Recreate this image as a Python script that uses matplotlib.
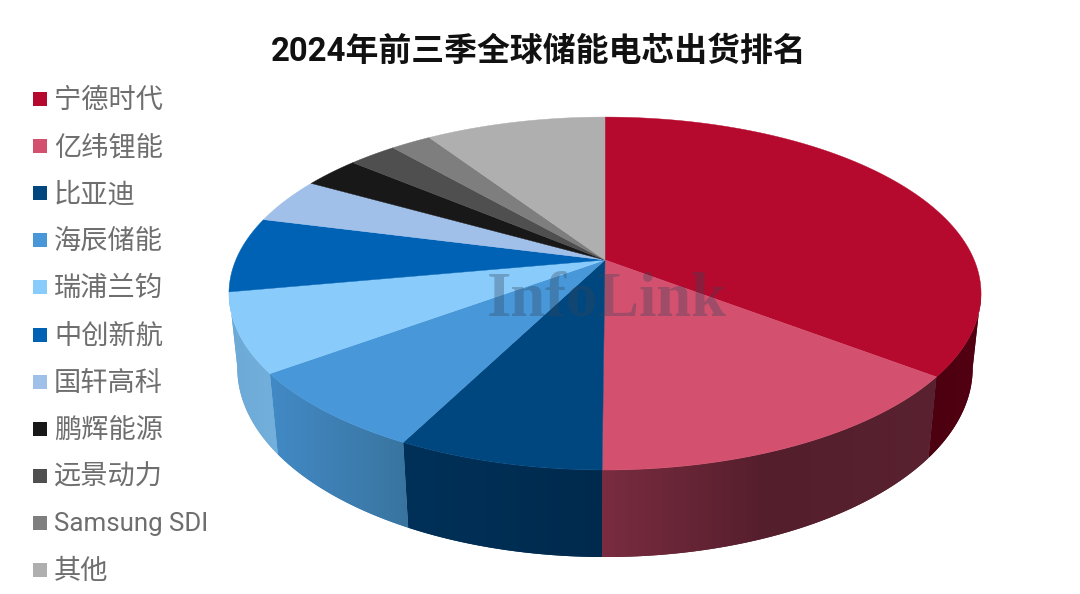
import numpy as np
import matplotlib
matplotlib.use("Agg")
import matplotlib.pyplot as plt
from matplotlib.colors import to_rgb

plt.rcParams['font.family'] = ['Noto Sans CJK SC', 'DejaVu Sans']

title = "2024年前三季全球储能电芯出货排名"
names = ["宁德时代", "亿纬锂能", "比亚迪", "海辰储能", "瑞浦兰钧", "中创新航",
         "国轩高科", "鹏辉能源", "远景动力", "Samsung SDI", "其他"]
shares = [35.4, 14.7, 7.4, 7.4, 7.2, 6.9, 4.2, 2.9, 2.5, 2.1, 9.3]
colors = ["#b50a2e", "#d4506f", "#00477f", "#4797d9", "#89ccfc", "#0062b5",
          "#a0c0ea", "#181818", "#4f4f4f", "#7e7e7e", "#afafaf"]
# side wall colours, evenly spaced from the right end to the left end of each slice
walls = [("#520012", "#4c0010"), ("#5a2230", "#541e2c", "#7a2c40"), ("#002a4d", "#003159"),
         ("#39749f", "#428ac6"), ("#73b0dc", "#6ca9d6"), None, None, None, None, None, None]

# perspective of the top and bottom disc, in pixels
TOP = dict(cx=605, cy=260, a=170.1, b=369.2, k=0.19)
BOTTOM = dict(cx=605, cy=332.8, a=182.3, b=361.2, k=0.187)


def project(theta, p):
    x, y = np.sin(theta), np.cos(theta)
    w = 1 + p['k'] * y
    return p['cx'] + p['b'] * x / w, p['cy'] - p['a'] * y / w


fig = plt.figure(figsize=(10.8, 5.94), dpi=100)
ax = fig.add_axes([0, 0, 1, 1])

edges = np.radians(np.concatenate([[0], np.cumsum(shares)]) / sum(shares) * 360)

# walls first, the top face covers what is behind
for i, wall in enumerate(walls):
    if wall is None:
        continue
    t = np.linspace(edges[i], edges[i + 1], 120)
    t = t[np.cos(t) < -0.18]
    xt, yt = project(t, TOP)
    xb, yb = project(t, BOTTOM)
    px, py = np.r_[xt, xb[::-1]], np.r_[yt, yb[::-1]]
    poly = ax.fill(px, py, color=to_rgb(wall[1]), lw=0, zorder=-1)[0]
    # gradient runs left to right across the slice
    stops = np.array([to_rgb(c) for c in wall[::-1]])
    grid = np.linspace(0, 1, 256)
    pos = np.linspace(0, 1, len(stops))
    grad = np.stack([np.interp(grid, pos, stops[:, c]) for c in range(3)], axis=-1)[None, :, :]
    im = ax.imshow(grad, extent=(px.min(), px.max(), py.max(), py.min()), aspect='auto',
                   interpolation='bilinear', zorder=0)
    im.set_clip_path(poly)

for i, col in enumerate(colors):
    t = np.linspace(edges[i], edges[i + 1], 120)
    xs, ys = project(t, TOP)
    ax.fill(np.r_[TOP['cx'], xs], np.r_[TOP['cy'], ys], color=col, lw=0.3)

ax.text(607, 300, "InfoLink", family='Liberation Serif', weight='bold', fontsize=45,
        color='#34465a', alpha=0.33, ha='center', va='center')

for i, name in enumerate(names):
    y = 99 + i * 47.1
    ax.scatter([40], [y], marker='s', s=100, color=colors[i], linewidths=0)
    ax.text(54, y + 1.5, name, fontsize=18.6 if name.isascii() else 19.6, color='#6e6e6e',
            va='center', ha='left', family=['Roboto', 'Noto Sans CJK SC'])

ax.text(539, 52, title, fontsize=23.7, weight='bold', color='#111111', ha='center', va='center',
        family=['Roboto', 'Noto Sans CJK SC'])

ax.set_xlim(0, 1080)
ax.set_ylim(594, 0)
ax.set_aspect('auto')
ax.axis('off')

fig.savefig("out.png", dpi=100)
